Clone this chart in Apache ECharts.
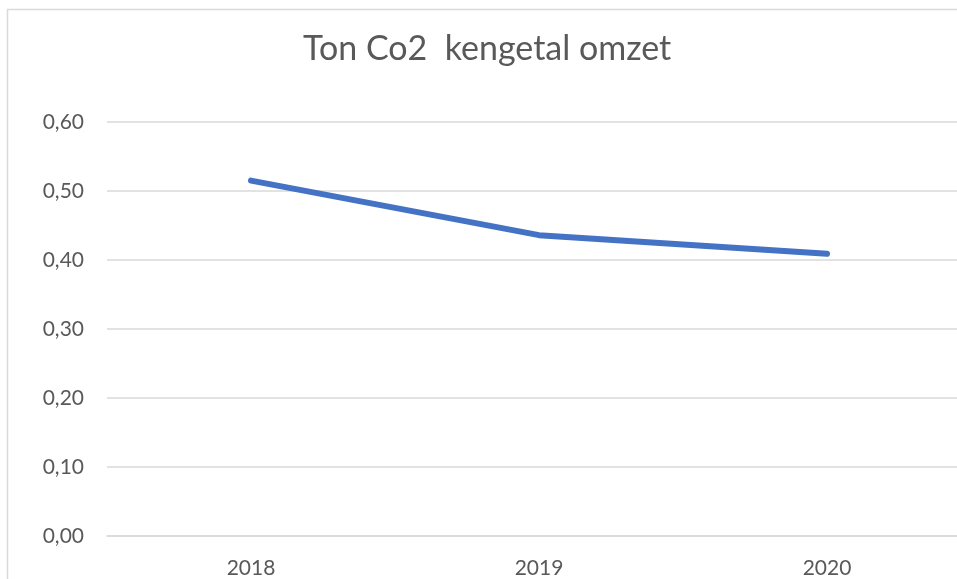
<!DOCTYPE html>
<html>
<head>
<meta charset="utf-8">
<script src="https://cdn.jsdelivr.net/npm/echarts@6/dist/echarts.min.js"></script>
<style>
html,body{margin:0;padding:0;background:#fff;overflow:hidden;}
#chart{width:957px;height:579px;}
</style>
</head>
<body>
<div id="chart"></div>
<script>
var titleText = 'Ton Co2  kengetal omzet';
var categories = ['2018', '2019', '2020'];
var values = [0.515, 0.436, 0.409];
var yMin = 0, yMax = 0.6, yStep = 0.1;

var chart = echarts.init(document.getElementById('chart'), null, {renderer: 'canvas', width: 957, height: 579});
var font = 'Lato, "Liberation Sans", sans-serif';
chart.setOption({
  backgroundColor: '#ffffff',
  animation: false,
  title: {
    text: titleText,
    left: 303,
    top: 32,
    padding: 0,
    textStyle: {fontFamily: font, fontSize: 34, fontWeight: 'normal', color: '#595959'}
  },
  graphic: [{
    type: 'rect',
    shape: {x: 7.5, y: 9.5, width: 1000, height: 700},
    style: {fill: 'none', stroke: '#d9d9d9', lineWidth: 1.5},
    silent: true
  }],
  grid: {left: 107, top: 122, width: 864, height: 414, containLabel: false, outerBoundsMode: 'none'},
  xAxis: {
    type: 'category',
    data: categories,
    boundaryGap: true,
    axisLine: {show: true, lineStyle: {color: '#d9d9d9', width: 1.5}},
    axisTick: {show: false},
    axisLabel: {fontFamily: font, fontSize: 21, color: '#595959', margin: 22}
  },
  yAxis: {
    type: 'value',
    min: yMin, max: yMax, interval: yStep,
    axisLine: {show: false},
    axisTick: {show: false},
    splitLine: {lineStyle: {color: '#d9d9d9', width: 1.5}},
    axisLabel: {
      fontFamily: font, fontSize: 21, color: '#595959', margin: 23,
      formatter: function (v) { return v.toFixed(2).replace('.', ','); }
    }
  },
  series: [{
    type: 'line',
    data: values,
    showSymbol: false,
    symbol: 'none',
    lineStyle: {color: '#4472C4', width: 6, cap: 'round', join: 'round'},
    itemStyle: {color: '#4472C4'}
  }]
});
</script>
</body>
</html>
